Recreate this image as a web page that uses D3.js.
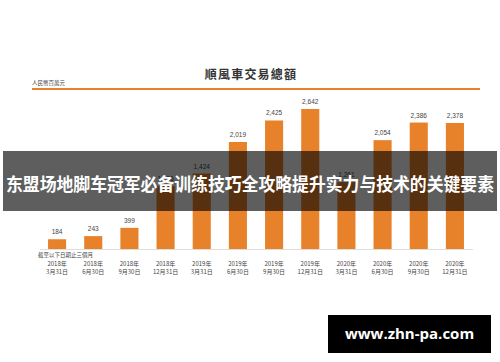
<!DOCTYPE html>
<html>
<head>
<meta charset="utf-8">
<script src="https://cdn.jsdelivr.net/npm/d3@7"></script>
<style>
  html, body { margin: 0; padding: 0; background: #fff; }
  svg { display: block; }
</style>
</head>
<body>
<div id="chart"></div>
<script>
// quarter-end dates (two label lines each)
const years = ['2018年','2018年','2018年','2018年','2019年','2019年','2019年','2019年','2020年','2020年','2020年','2020年'];
const dates = ['3月31日','6月30日','9月30日','12月31日','3月31日','6月30日','9月30日','12月31日','3月31日','6月30日','9月30日','12月31日'];
// hitch GTV, RMB millions
const values = [184, 243, 399, 1186, 1424, 2019, 2425, 2642, 1261, 2054, 2386, 2378];

const W = 500, H = 362;
const orange = '#e8822a';

const svg = d3.select('#chart').append('svg')
  .attr('width', W).attr('height', H);

const keys = d3.range(values.length);

const x = d3.scaleBand()
  .domain(keys)
  .range([39, 473])
  .paddingInner(0.5)
  .paddingOuter(0.25);

const y = d3.scaleLinear()
  .domain([0, 3000])
  .range([249, 90]);

// title
svg.append('text')
  .attr('x', 251).attr('y', 79)
  .attr('text-anchor', 'middle')
  .attr('font-family', '"Noto Sans CJK TC", sans-serif')
  .attr('font-weight', 'bold')
  .attr('font-size', 12)
  .attr('letter-spacing', 1.2)
  .attr('fill', '#333')
  .text('順風車交易總額');

// unit
svg.append('text')
  .attr('x', 32).attr('y', 85)
  .attr('font-family', '"Noto Sans CJK TC", sans-serif')
  .attr('font-size', 5.5)
  .attr('fill', '#444')
  .text('人民幣百萬元');

// orange rule under the title
svg.append('line')
  .attr('x1', 32).attr('x2', 480)
  .attr('y1', 89).attr('y2', 89)
  .attr('stroke', orange)
  .attr('stroke-width', 2);

// baseline
svg.append('line')
  .attr('x1', 40).attr('x2', 473)
  .attr('y1', y(0) + 0.5).attr('y2', y(0) + 0.5)
  .attr('stroke', '#dddddd')
  .attr('stroke-width', 1);

// bars
svg.append('g')
  .selectAll('rect')
  .data(keys)
  .join('rect')
  .attr('x', i => x(i))
  .attr('width', x.bandwidth())
  .attr('y', i => y(values[i]))
  .attr('height', i => y(0) - y(values[i]))
  .attr('fill', orange);

// value labels
svg.append('g')
  .selectAll('text')
  .data(keys)
  .join('text')
  .attr('x', i => x(i) + x.bandwidth() / 2)
  .attr('y', i => y(values[i]) - 5)
  .attr('text-anchor', 'middle')
  .attr('font-family', 'Liberation Sans, Arial, sans-serif')
  .attr('font-size', 6.5)
  .attr('fill', '#444')
  .text(i => d3.format(',')(values[i]));

// note
svg.append('text')
  .attr('x', 38).attr('y', 257)
  .attr('font-family', '"Noto Sans CJK TC", sans-serif')
  .attr('font-size', 5.5)
  .attr('fill', '#444')
  .text('截至以下日期止三個月');

// category labels
const cat = svg.append('g')
  .selectAll('text')
  .data(keys)
  .join('text')
  .attr('text-anchor', 'middle')
  .attr('font-family', '"Noto Sans CJK TC", sans-serif')
  .attr('font-size', 6)
  .attr('fill', '#444');
cat.append('tspan')
  .attr('x', i => x(i) + x.bandwidth() / 2)
  .attr('y', 266)
  .text(i => years[i]);
cat.append('tspan')
  .attr('x', i => x(i) + x.bandwidth() / 2)
  .attr('y', 274)
  .text(i => dates[i]);

// overlay banner
svg.append('rect')
  .attr('x', 3).attr('y', 151)
  .attr('width', 494).attr('height', 60)
  .attr('fill', 'rgba(0,0,0,0.63)');

svg.append('text')
  .attr('x', 250).attr('y', 191)
  .attr('text-anchor', 'middle')
  .attr('font-family', '"Noto Sans CJK SC", sans-serif')
  .attr('font-weight', 'bold')
  .attr('font-size', 18)
  .attr('textLength', 488)
  .attr('lengthAdjust', 'spacingAndGlyphs')
  .attr('fill', '#fff')
  .text('东盟场地脚车冠军必备训练技巧全攻略提升实力与技术的关键要素');

// watermark
svg.append('rect')
  .attr('x', 328).attr('y', 315)
  .attr('width', 163).attr('height', 38)
  .attr('fill', '#000');

svg.append('text')
  .attr('x', 409.5).attr('y', 339)
  .attr('text-anchor', 'middle')
  .attr('font-family', '"Open Sans", "DejaVu Sans", sans-serif')
  .attr('font-weight', 'bold')
  .attr('font-size', 15)
  .attr('fill', '#fff')
  .text('www.zhn-pa.com');
</script>
</body>
</html>
